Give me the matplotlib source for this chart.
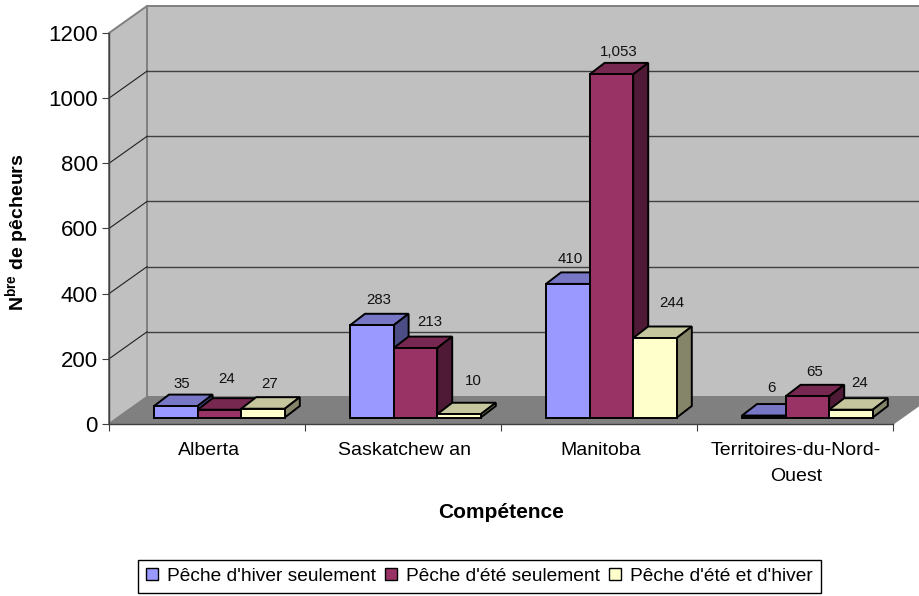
import matplotlib
matplotlib.use("Agg")
from matplotlib import pyplot as plt
from matplotlib.patches import Polygon, Patch

categories = ["Alberta", "Saskatchew an", "Manitoba", "Territoires-du-Nord-\nOuest"]
series_names = ["Pêche d'hiver seulement", "Pêche d'été seulement", "Pêche d'été et d'hiver"]
hiver = [35, 283, 410, 6]
ete = [24, 213, 1053, 65]
ete_hiver = [27, 10, 244, 24]
y_ticks = [0, 200, 400, 600, 800, 1000, 1200]

plt.rcParams["font.family"] = ["Liberation Sans", "DejaVu Sans"]
plt.rcParams["mathtext.fontset"] = "custom"
plt.rcParams["mathtext.bf"] = "Liberation Sans:bold"
plt.rcParams["mathtext.rm"] = "Liberation Sans"

W, H = 920, 596
# pixel box of the front plane of the chart
L, R, T, B = 109, 893, 33, 424
PX_X = (R - L) / 4.0
PX_Y = (B - T) / 1200.0

# oblique offsets of the box and of the bars
BOX_DX = 38 / PX_X
BOX_DY = 27 / PX_Y
BAR_DX = 15 / PX_X
BAR_DY = 11.5 / PX_Y
BAR_W = 43.6 / PX_X
BAR_X0 = 45 / PX_X
BAR_BASE = 6.5 / PX_Y


def poly(ax, pts, fc, ec, lw, z):
    ax.add_patch(Polygon(pts, closed=True, facecolor=fc, edgecolor=ec, linewidth=lw,
                         zorder=z, clip_on=False, joinstyle="miter"))


def drawBox(ax):
    dx, dy = BOX_DX, BOX_DY
    poly(ax, [(dx, dy), (4 + dx, dy), (4 + dx, 1200 + dy), (dx, 1200 + dy)], "#C0C0C0", "#808080", 1.4, 1)
    poly(ax, [(0, 0), (dx, dy), (dx, 1200 + dy), (0, 1200)], "#C0C0C0", "#808080", 1.4, 1)
    poly(ax, [(0, 0), (4, 0), (4 + dx, dy), (dx, dy)], "#808080", "#808080", 1.0, 1.1)
    for v in y_ticks[1:-1]:
        ax.plot([dx, 4 + dx], [v + dy, v + dy], color="#404040", lw=1.0, zorder=1.2, clip_on=False)
        ax.plot([0, dx], [v, v + dy], color="#202020", lw=0.8, zorder=1.2, clip_on=False)


def drawBars(ax):
    styles = [("#9999FF", "#7777C6", "#4D4D85"),
              ("#993366", "#772850", "#4F1A35"),
              ("#FFFFCC", "#C6C69E", "#85856A")]
    # label shifts from the back of each bar top, in pixels
    shifts = [[(-2, 11), (0, 19), (-1, 13)],
              [(-1, 14), (7, 15), (7, 22)],
              [(-5, 13), (0, 11), (9, 23)],
              [(0, 16), (0, 13), (1, 15)]]
    z = 3
    for c in range(4):
        for s, vals in enumerate([hiver, ete, ete_hiver]):
            x = c + BAR_X0 + s * BAR_W
            v = vals[c]
            top = BAR_BASE + v
            front, upper, side = styles[s]
            ax.bar(x, v, width=BAR_W, bottom=BAR_BASE, align="edge", color=front,
                   edgecolor="black", linewidth=1.4, zorder=z + 0.2, clip_on=False)
            poly(ax, [(x, top), (x + BAR_W, top), (x + BAR_W + BAR_DX, top + BAR_DY), (x + BAR_DX, top + BAR_DY)],
                 upper, "black", 1.4, z)
            poly(ax, [(x + BAR_W, BAR_BASE), (x + BAR_W + BAR_DX, BAR_BASE + BAR_DY),
                      (x + BAR_W + BAR_DX, top + BAR_DY), (x + BAR_W, top)], side, "black", 1.4, z)
            z += 1
            sx, sy = shifts[c][s]
            ax.annotate(f"{v:,}", (x + BAR_W / 2 + BAR_DX / 2, top + BAR_DY),
                        xytext=(sx * 0.72, sy * 0.72), textcoords="offset points",
                        ha="center", va="center", fontsize=10.8, color="#111111",
                        annotation_clip=False, zorder=30)


def plot():
    fig = plt.figure(figsize=(W / 100, H / 100), dpi=100, facecolor="white")
    ax = fig.add_axes([L / W, 1 - B / H, (R - L) / W, (B - T) / H])
    ax.patch.set_visible(False)
    ax.set_xlim(0, 4)
    ax.set_ylim(0, 1200)
    drawBox(ax)
    drawBars(ax)

    for side in ["top", "right"]:
        ax.spines[side].set_visible(False)
    for side in ["left", "bottom"]:
        ax.spines[side].set_color("#404040")
        ax.spines[side].set_linewidth(1.0)
        ax.spines[side].set_zorder(2)

    ax.set_yticks(y_ticks)
    ax.tick_params(axis="y", labelsize=16, length=5, width=0.8, color="#404040", pad=3)
    ax.set_xticks([0, 1, 2, 3, 4])
    ax.set_xticklabels([])
    ax.set_xticks([0.51, 1.51, 2.51, 3.505], minor=True)
    ax.set_xticklabels(categories, minor=True, fontsize=14, linespacing=1.7)
    ax.tick_params(axis="x", which="major", length=5, width=0.8, color="#404040")
    ax.tick_params(axis="x", which="minor", length=0, pad=13)

    ax.set_xlabel("Compétence", fontsize=15, fontweight="bold")
    ax.xaxis.set_label_coords((501 - L) / (R - L), (B - 513) / (B - T), transform=ax.transAxes)
    ax.xaxis.label.set_va("center")
    ax.set_ylabel(r"N$^{\mathbf{bre}}$ de pêcheurs", fontsize=14, fontweight="bold")
    ax.yaxis.set_label_coords((18 - L) / (R - L), (B - 232) / (B - T), transform=ax.transAxes)
    ax.yaxis.label.set_va("center")

    handles = [Patch(facecolor=c, edgecolor="black", linewidth=1.0, label=n)
               for c, n in zip(["#9999FF", "#993366", "#FFFFCC"], series_names)]
    fig.legend(handles=handles, loc="center", bbox_to_anchor=(479.5 / W, 1 - 576.5 / H), ncol=3,
               fontsize=13.8, frameon=True, fancybox=False, edgecolor="black", facecolor="white",
               framealpha=1, handlelength=0.62, handleheight=0.62, handletextpad=0.45,
               columnspacing=0.5, borderpad=0.42, borderaxespad=0)

    fig.savefig("out.png", dpi=100)


if __name__ == '__main__':
    plot()
